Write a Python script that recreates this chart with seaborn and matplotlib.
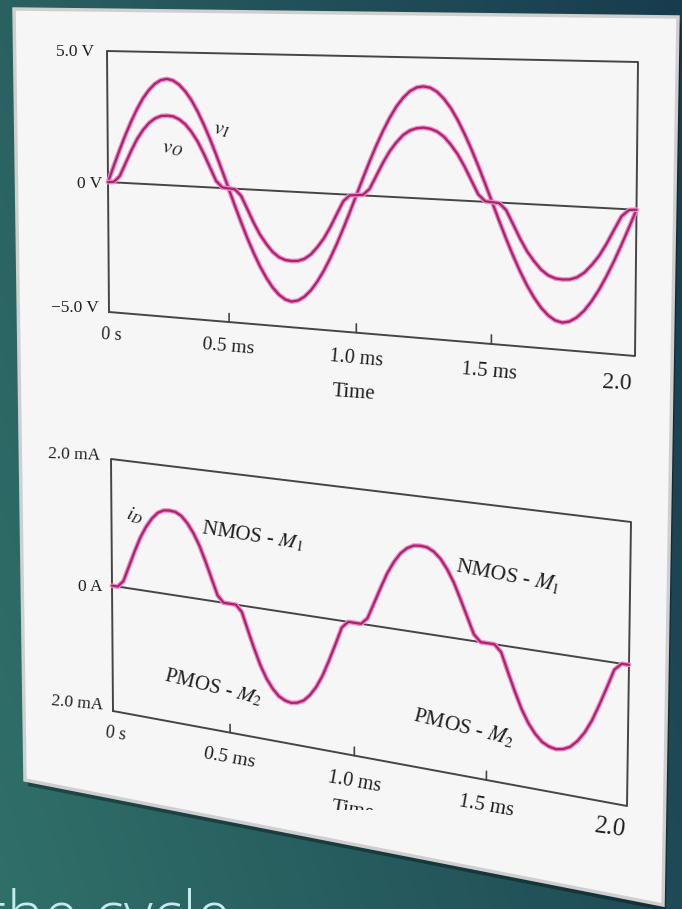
import numpy as np
import pandas as pd
import matplotlib
matplotlib.use("Agg")
import matplotlib.pyplot as plt
import matplotlib.transforms as mtransforms
import matplotlib.patheffects as pe
from matplotlib.patches import Polygon
import seaborn as sns

# ---------------- data ----------------
time_ms = [0.000, 0.025, 0.050, 0.075, 0.100, 0.125, 0.150, 0.175, 0.200, 0.225,
           0.250, 0.275, 0.300, 0.325, 0.350, 0.375, 0.400, 0.425, 0.450, 0.475,
           0.500, 0.525, 0.550, 0.575, 0.600, 0.625, 0.650, 0.675, 0.700, 0.725,
           0.750, 0.775, 0.800, 0.825, 0.850, 0.875, 0.900, 0.925, 0.950, 0.975,
           1.000, 1.025, 1.050, 1.075, 1.100, 1.125, 1.150, 1.175, 1.200, 1.225,
           1.250, 1.275, 1.300, 1.325, 1.350, 1.375, 1.400, 1.425, 1.450, 1.475,
           1.500, 1.525, 1.550, 1.575, 1.600, 1.625, 1.650, 1.675, 1.700, 1.725,
           1.750, 1.775, 1.800, 1.825, 1.850, 1.875, 1.900, 1.925, 1.950, 1.975,
           2.000]
v_in = [0.0, 0.63, 1.24, 1.82, 2.35, 2.83, 3.24, 3.56, 3.80, 3.95,
        4.00, 3.95, 3.80, 3.56, 3.24, 2.83, 2.35, 1.82, 1.24, 0.63,
        0.0, -0.63, -1.24, -1.82, -2.35, -2.83, -3.24, -3.58, -3.83, -3.99,
        -4.05, -3.99, -3.83, -3.58, -3.24, -2.83, -2.35, -1.82, -1.24, -0.63,
        0.0, 0.63, 1.24, 1.82, 2.35, 2.83, 3.24, 3.56, 3.80, 3.94,
        3.98, 3.94, 3.80, 3.56, 3.24, 2.83, 2.35, 1.82, 1.24, 0.63,
        0.0, -0.63, -1.24, -1.82, -2.35, -2.83, -3.24, -3.58, -3.83, -3.99,
        -4.05, -3.99, -3.83, -3.58, -3.24, -2.83, -2.35, -1.82, -1.24, -0.63,
        0.0]
v_out = [0.0, 0.02, 0.25, 0.75, 1.25, 1.70, 2.05, 2.32, 2.50, 2.60,
         2.62, 2.60, 2.50, 2.32, 2.05, 1.70, 1.25, 0.75, 0.25, 0.02,
         0.0, -0.02, -0.25, -0.73, -1.22, -1.65, -1.98, -2.26, -2.44, -2.53,
         -2.55, -2.53, -2.44, -2.26, -1.98, -1.65, -1.22, -0.73, -0.25, -0.02,
         0.0, 0.02, 0.25, 0.73, 1.21, 1.63, 1.96, 2.23, 2.40, 2.49,
         2.52, 2.49, 2.40, 2.23, 1.96, 1.63, 1.21, 0.73, 0.25, 0.02,
         0.0, -0.02, -0.25, -0.73, -1.22, -1.65, -1.98, -2.26, -2.44, -2.53,
         -2.55, -2.53, -2.44, -2.26, -1.98, -1.65, -1.22, -0.73, -0.25, -0.02,
         0.0]
i_drain = [0.0, 0.0, 0.10, 0.35, 0.60, 0.83, 1.01, 1.15, 1.25, 1.30,
           1.31, 1.30, 1.25, 1.15, 1.01, 0.83, 0.60, 0.35, 0.10, 0.0,
           0.0, 0.0, -0.10, -0.37, -0.63, -0.87, -1.06, -1.20, -1.30, -1.35,
           -1.37, -1.35, -1.30, -1.20, -1.06, -0.87, -0.63, -0.37, -0.10, 0.0,
           0.0, 0.0, 0.10, 0.34, 0.58, 0.81, 0.99, 1.13, 1.22, 1.27,
           1.28, 1.27, 1.22, 1.13, 0.99, 0.81, 0.58, 0.34, 0.10, 0.0,
           0.0, 0.0, -0.10, -0.37, -0.63, -0.87, -1.06, -1.20, -1.30, -1.35,
           -1.37, -1.35, -1.30, -1.20, -1.06, -0.87, -0.63, -0.37, -0.10, 0.0,
           0.0]
x_tick_pos = [0.5, 1.0, 1.5]
top_ylim = (-5.0, 5.0)
bot_ylim = (-2.0, 2.0)
x_lim = (0.0, 2.0)

# ---------------- figure ----------------
W, H = 682, 909
sns.set_theme(style="white")
plt.rcParams["font.family"] = ["Liberation Serif", "DejaVu Serif"]
plt.rcParams["mathtext.fontset"] = "stix"

fig = plt.figure(figsize=(W / 100, H / 100), dpi=100)

# background gradient
bg = fig.add_axes([0, 0, 1, 1])
bg.set_axis_off()
yy, xx = np.mgrid[0:H, 0:W]
tt = 0.72 * xx / W + 0.28 * (1 - yy / H)
c1 = np.array([48, 112, 105]) / 255
c2 = np.array([24, 60, 78]) / 255
img = c1[None, None, :] * (1 - tt[..., None]) + c2[None, None, :] * tt[..., None]
bg.imshow(img, extent=[0, W, H, 0], aspect="auto", zorder=0)
bg.set_xlim(0, W)
bg.set_ylim(H, 0)

# paper (shadow + sheet)
paper = [(14, 9), (678, 17), (663, 905), (25, 780)]
shadow = [(x + 3, y + 6) for x, y in paper]
bg.add_patch(Polygon(shadow, closed=True, facecolor="black", alpha=0.35,
                     edgecolor="none", zorder=1))
bg.add_patch(Polygon(paper, closed=True, facecolor="#f6f6f6",
                     edgecolor="#cfcfcf", linewidth=2.5, zorder=2))


# ---------------- perspective transform ----------------
def homography(src, dst):
    A, b = [], []
    for (x, y), (X, Y) in zip(src, dst):
        A.append([x, y, 1, 0, 0, 0, -X * x, -X * y]); b.append(X)
        A.append([0, 0, 0, x, y, 1, -Y * x, -Y * y]); b.append(Y)
    h = np.linalg.solve(np.array(A, float), np.array(b, float))
    return np.append(h, 1).reshape(3, 3)


class Persp(mtransforms.Transform):
    input_dims = 2
    output_dims = 2
    is_separable = False
    has_inverse = False

    def __init__(self, M):
        super().__init__()
        self.M = M

    def transform_non_affine(self, values):
        v = np.asarray(values, float)
        shp = v.shape
        v = v.reshape(-1, 2)
        h = np.column_stack([v, np.ones(len(v))]) @ self.M.T
        xy = h[:, :2] / h[:, 2:3]
        out = np.column_stack([xy[:, 0], H - xy[:, 1]])
        return out.reshape(shp)


unit = [(0, 0), (1, 0), (1, 1), (0, 1)]
top_corners = [(109, 312), (635, 356), (638, 62), (107, 51)]
bot_corners = [(113, 711), (627, 806), (631, 522), (111, 459)]

LINE_C = "#aa2270"
GLOW = [pe.Stroke(linewidth=3.4, foreground="#ee8cc4"), pe.Normal()]
FRAME_C = "#454545"


def make_panel(corners, ylim):
    ax = fig.add_axes([0, 0, 1, 1], facecolor="none")
    ax.set_axis_off()
    ax.set_xlim(*x_lim)
    ax.set_ylim(*ylim)
    ax.set_autoscale_on(False)
    T = ax.transLimits + Persp(homography(unit, corners))
    return ax, T


def finish_panel(ax, T, ylim):
    for ln in ax.get_lines():
        ln.set_transform(T)
        ln.set_clip_on(False)
        ln.set_zorder(5)
        ln.set_path_effects(GLOW)
    y0, y1 = ylim
    tick_len = (y1 - y0) * 0.032
    frame = ax.plot([0, 2, 2, 0, 0], [y0, y0, y1, y1, y0], color=FRAME_C, lw=1.4)
    zero = ax.plot([0, 2], [0, 0], color=FRAME_C, lw=1.4)
    ticks = []
    for t in x_tick_pos:
        ticks += ax.plot([t, t], [y0, y0 + tick_len], color=FRAME_C, lw=1.2)
    for ln in frame + zero + ticks:
        ln.set_transform(T)
        ln.set_clip_on(False)
        ln.set_zorder(3)
    ax.set_xlim(*x_lim)
    ax.set_ylim(*ylim)


# top panel
ax_top, T_top = make_panel(top_corners, top_ylim)
df_top = pd.DataFrame({
    "t": time_ms * 2,
    "v": v_in + v_out,
    "series": ["vI"] * len(time_ms) + ["vO"] * len(time_ms),
})
sns.lineplot(data=df_top, x="t", y="v", hue="series",
             palette={"vI": LINE_C, "vO": LINE_C}, linewidth=1.6,
             legend=False, ax=ax_top)
finish_panel(ax_top, T_top, top_ylim)

# bottom panel
ax_bot, T_bot = make_panel(bot_corners, bot_ylim)
sns.lineplot(x=time_ms, y=i_drain, color=LINE_C, linewidth=1.6, ax=ax_bot)
finish_panel(ax_bot, T_bot, bot_ylim)
ax_top.set_zorder(3)
ax_bot.set_zorder(3)

# ---------------- text ----------------
TXT_C = "#1f1f1f"


def ptxt(x, y, s, size, rot=0.0, ha="center", va="center", **kw):
    return fig.text(x / W, 1 - y / H, s, fontsize=size, rotation=rot,
                    rotation_mode="anchor", ha=ha, va=va, color=TXT_C,
                    zorder=10, **kw)


# top panel labels
ptxt(94, 52, "5.0 V", 12.5, ha="right")
ptxt(102, 184, "0 V", 12.5, ha="right")
ptxt(99, 308, "\u22125.0 V", 12.5, ha="right")
ptxt(111, 335, "0 s", 13, rot=-3)
ptxt(228, 347, "0.5 ms", 14, rot=-5)
ptxt(356, 359, "1.0 ms", 14.5, rot=-5)
ptxt(489, 372, "1.5 ms", 15, rot=-5)
ptxt(617, 383, "2.0", 17, rot=-3)
ptxt(354, 393, "Time", 15, rot=-4)
ptxt(222, 130, "$v_I$", 15, rot=-8)
ptxt(173, 149, "$v_O$", 15, rot=-5)

# bottom panel labels
ptxt(100, 456, "2.0 mA", 12.5, rot=-2, ha="right")
ptxt(102, 587, "0 A", 12.5, ha="right")
ptxt(103, 706, "2.0 mA", 12.5, rot=-5, ha="right")
ptxt(116, 734, "0 s", 13, rot=-8)
ptxt(229, 758, "0.5 ms", 14, rot=-10)
ptxt(354, 782, "1.0 ms", 14.5, rot=-10)
ptxt(486, 806, "1.5 ms", 15, rot=-10)
ptxt(610, 828, "2.0", 18, rot=-8)
tm = ptxt(353, 811, "Time", 15, rot=-9)
tm.set_clip_box(mtransforms.Bbox([[0, H - 810], [W, H]]))
tm.set_clip_on(True)
ptxt(252, 536, "NMOS - $M_1$", 15, rot=-9)
ptxt(508, 575, "NMOS - $M_1$", 15.5, rot=-11)
ptxt(213, 687, "PMOS - $M_2$", 15, rot=-14)
ptxt(464, 727, "PMOS - $M_2$", 15.5, rot=-14)
ptxt(135, 516, "$i_D$", 14, rot=-15)

# slide caption (cut off at the bottom edge, as in the slide)
fig.text(-14 / W, 1 - 936 / H, "the cycle", fontsize=45, color="#c4ebeb",
         family=["Open Sans", "DejaVu Sans"], fontweight="light",
         ha="left", va="baseline", zorder=10)

fig.savefig("out.png", dpi=100)
